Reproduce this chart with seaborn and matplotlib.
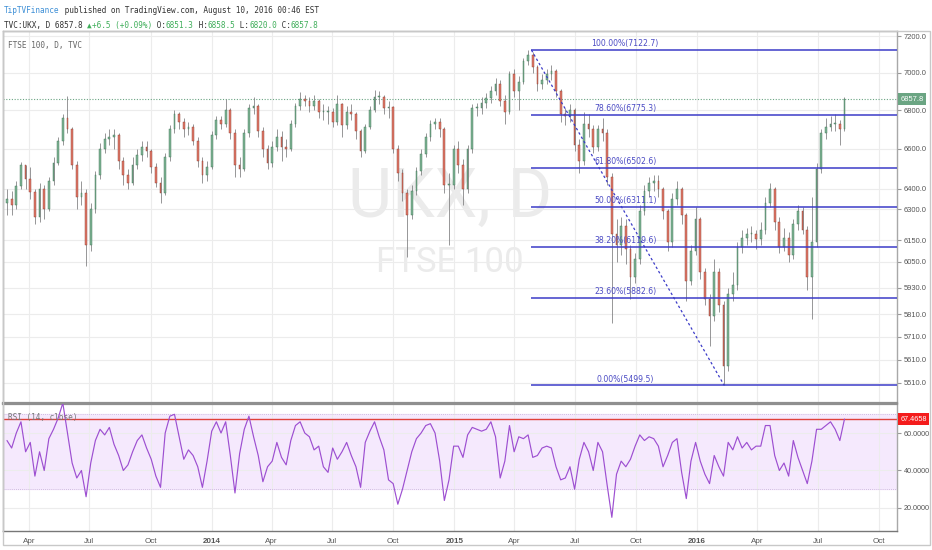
import numpy as np
import pandas as pd
import seaborn as sns
import matplotlib
matplotlib.use("Agg")
import matplotlib.pyplot as plt
import matplotlib.dates as mdates
from matplotlib.ticker import FixedLocator, NullLocator, FixedFormatter
from matplotlib.patches import Rectangle
from matplotlib.transforms import blended_transform_factory

# weekly candles (FTSE 100, Feb 2013 - Aug 2016)
closes = [
    6350, 6320, 6415, 6520, 6450, 6385, 6260, 6400, 6300, 6440,
    6530, 6640, 6760, 6700, 6520, 6360, 6380, 6130, 6300, 6470,
    6600, 6650, 6660, 6670, 6540, 6470, 6430, 6520, 6570, 6610,
    6590, 6510, 6430, 6380, 6560, 6700, 6780, 6740, 6700, 6710,
    6640, 6540, 6470, 6510, 6670, 6750, 6730, 6800, 6680, 6520,
    6500, 6680, 6810, 6820, 6690, 6600, 6530, 6610, 6660, 6610,
    6600, 6730, 6820, 6860, 6850, 6820, 6850, 6790, 6790, 6790,
    6740, 6830, 6720, 6790, 6780, 6690, 6590, 6710, 6800, 6870,
    6870, 6810, 6815, 6600, 6480, 6380, 6270, 6390, 6490, 6575,
    6660, 6730, 6740, 6700, 6420, 6420, 6600, 6520, 6400, 6600,
    6810, 6810, 6840, 6865, 6900, 6940, 6850, 6790, 6990, 6900,
    6950, 7060, 7095, 7030, 6940, 6960, 6990, 7010, 6900, 6780,
    6770, 6800, 6620, 6540, 6730, 6700, 6610, 6700, 6680, 6460,
    6180, 6130, 6220, 6110, 5980, 6060, 6290, 6390, 6430, 6440,
    6400, 6290, 6140, 6350, 6400, 6270, 5960, 6100, 6250, 6000,
    5880, 5800, 6000, 5850, 5580, 5900, 5940, 6120, 6160, 6180,
    6180, 6155, 6200, 6330, 6400, 6240, 6120, 6160, 6080, 6230,
    6290, 6200, 5980, 6140, 6500, 6680, 6710, 6730, 6730, 6700,
    6857.8,
]
highs = [
    6400, 6390, 6440, 6535, 6520, 6510, 6400, 6430, 6420, 6460,
    6560, 6660, 6780, 6875, 6710, 6540, 6440, 6400, 6330, 6490,
    6630, 6680, 6700, 6700, 6680, 6560, 6500, 6560, 6600, 6640,
    6640, 6600, 6530, 6460, 6580, 6720, 6800, 6790, 6760, 6740,
    6730, 6660, 6560, 6540, 6690, 6770, 6770, 6860, 6810, 6700,
    6560, 6700, 6830, 6870, 6830, 6710, 6620, 6640, 6700, 6690,
    6650, 6750, 6840, 6895, 6880, 6870, 6880, 6860, 6830, 6820,
    6810, 6880, 6840, 6820, 6830, 6790, 6700, 6730, 6820, 6905,
    6900, 6880, 6850, 6820, 6620, 6500, 6400, 6420, 6510, 6600,
    6680, 6750, 6760, 6760, 6710, 6480, 6620, 6640, 6550, 6620,
    6830, 6840, 6870, 6890, 6930, 6970, 6960, 6880, 7010, 7020,
    6980, 7080, 7122.7, 7110, 7040, 6990, 7020, 7040, 7020, 6910,
    6810, 6830, 6810, 6650, 6790, 6780, 6720, 6720, 6760, 6700,
    6480, 6250, 6260, 6250, 6130, 6090, 6320, 6420, 6460, 6470,
    6470, 6410, 6300, 6380, 6440, 6410, 6280, 6130, 6310, 6260,
    6020, 5900, 6060, 6020, 5870, 5930, 6000, 6140, 6200, 6210,
    6220, 6200, 6240, 6360, 6430, 6410, 6260, 6210, 6190, 6250,
    6320, 6310, 6220, 6360, 6530, 6700, 6760, 6770, 6780, 6750,
    6870,
]
lows = [
    6270, 6270, 6300, 6400, 6400, 6350, 6230, 6240, 6250, 6290,
    6420, 6520, 6620, 6680, 6500, 6300, 6320, 6030, 6100, 6280,
    6450, 6580, 6620, 6600, 6500, 6420, 6400, 6420, 6500, 6540,
    6560, 6480, 6410, 6330, 6370, 6540, 6680, 6700, 6660, 6670,
    6620, 6510, 6430, 6440, 6500, 6650, 6700, 6710, 6650, 6460,
    6460, 6490, 6660, 6780, 6660, 6560, 6500, 6510, 6590, 6540,
    6560, 6590, 6710, 6800, 6820, 6790, 6800, 6760, 6750, 6730,
    6710, 6720, 6660, 6700, 6750, 6650, 6560, 6580, 6700, 6790,
    6830, 6780, 6760, 6580, 6440, 6340, 6070, 6250, 6370, 6470,
    6560, 6640, 6700, 6660, 6380, 6130, 6400, 6480, 6320, 6380,
    6580, 6770, 6780, 6810, 6840, 6880, 6820, 6730, 6780, 6870,
    6800, 6940, 7040, 7000, 6900, 6910, 6940, 6960, 6870, 6740,
    6720, 6740, 6590, 6480, 6520, 6660, 6580, 6590, 6640, 6420,
    5770, 6050, 6080, 6040, 5880, 5950, 6040, 6270, 6360, 6390,
    6360, 6250, 6100, 6120, 6320, 6230, 5870, 5940, 6080, 5970,
    5850, 5670, 5780, 5820, 5499.5, 5560, 5870, 5920, 6090, 6130,
    6140, 6110, 6130, 6180, 6310, 6200, 6090, 6100, 6050, 6060,
    6200, 6180, 5920, 5790, 6120, 6480, 6650, 6690, 6690, 6620,
    6690,
]
rsi = [
    56, 52, 60, 66, 50, 55, 37, 50, 40, 57,
    62, 68, 76, 60, 44, 36, 40, 26, 44, 56,
    62, 59, 63, 54, 48, 40, 43, 50, 56, 59,
    52, 46, 37, 31, 60, 69, 70, 58, 46, 51,
    48, 42, 31, 45, 61, 66, 60, 66, 48, 28,
    49, 62, 69, 58, 48, 34, 42, 45, 55, 47,
    43, 56, 64, 66, 60, 58, 51, 53, 42, 39,
    52, 46, 50, 55, 48, 42, 31, 55, 61, 66,
    58, 51, 35, 33, 22, 30, 40, 50, 57, 60,
    64, 65, 60, 45, 24, 35, 53, 53, 47, 59,
    63, 62, 61, 62, 66, 58, 36, 45, 64, 50,
    58, 57, 59, 47, 48, 52, 53, 52, 42, 35,
    36, 42, 30, 46, 55, 50, 40, 55, 50, 32,
    15, 38, 45, 42, 46, 53, 59, 56, 58, 57,
    53, 42, 48, 55, 57, 39, 25, 45, 55, 45,
    38, 33, 48, 42, 37, 55, 51, 58, 52, 55,
    51, 53, 53, 64, 64, 48, 40, 44, 37, 56,
    47, 40, 33, 45, 62, 62, 64, 66, 62, 56,
    67.4658,
]

price_ticks = [5510, 5610, 5710, 5810, 5930, 6050, 6150, 6300, 6400, 6600, 6800, 7000, 7200]
rsi_ticks = [20, 40, 60]
tick_dates = ["2013-04-01", "2013-07-01", "2013-10-01", "2014-01-01", "2014-04-01", "2014-07-01",
              "2014-10-01", "2015-01-01", "2015-04-01", "2015-07-01", "2015-10-01", "2016-01-01",
              "2016-04-01", "2016-07-01", "2016-10-01"]
tick_labels = ["Apr", "Jul", "Oct", "2014", "Apr", "Jul", "Oct", "2015",
               "Apr", "Jul", "Oct", "2016", "Apr", "Jul", "Oct"]

fib_pct = ["100.00%", "78.60%", "61.80%", "50.00%", "38.20%", "23.60%", "0.00%"]
fib_val = [7122.7, 6775.3, 6502.6, 6311.1, 6119.6, 5882.6, 5499.5]
fib_start, fib_end = "2015-04-27", "2016-02-11"
last_price = 6857.8
last_rsi = 67.4658

dates = pd.date_range(end="2016-08-10", periods=len(closes), freq="7D")
x = mdates.date2num(dates)
c = np.array(closes, dtype=float)
o = np.concatenate([[6330.0], c[:-1]])
h = np.array(highs, dtype=float)
l = np.array(lows, dtype=float)

sns.set_style("white")
plt.rcParams["font.family"] = ["DejaVu Sans"]

W, H = 932, 550
fig = plt.figure(figsize=(W / 100, H / 100), dpi=100)
fig.patch.set_facecolor("white")


def box(left, top, right, bottom):
    return [left / W, 1 - bottom / H, (right - left) / W, (bottom - top) / H]


ax = fig.add_axes(box(3, 31, 897, 403))
rx = fig.add_axes(box(3, 404, 897, 531), sharex=ax)

grid_c = "#ececec"
spine_c = "#a8a8a8"
txt_c = "#555555"
mono = "DejaVu Sans Mono"
axis_font = "Liberation Sans"

# ---- price panel
ax.set_yscale("log")
ax.vlines(x, l, h, color="#7a7a7c", lw=0.55, zorder=2)
up = c >= o
body_lo = np.minimum(o, c)
body_h = np.maximum(np.abs(c - o), 4)
ax.bar(x[up], body_h[up], bottom=body_lo[up], width=2.6, color="#7fb596",
       edgecolor="#3e6f52", lw=0.3, zorder=3)
ax.bar(x[~up], body_h[~up], bottom=body_lo[~up], width=2.6, color="#e07a6a",
       edgecolor="#8a3a2e", lw=0.3, zorder=3)

xmin = mdates.date2num(pd.Timestamp("2013-02-21"))
xmax = mdates.date2num(pd.Timestamp("2016-10-28"))
ax.set_xlim(xmin, xmax)
ax.set_ylim(5425, 7228)

ax.yaxis.set_major_locator(FixedLocator(price_ticks))
ax.yaxis.set_major_formatter(FixedFormatter([f"{v:.1f}" for v in price_ticks]))
ax.yaxis.set_minor_locator(NullLocator())
ax.yaxis.tick_right()
ax.tick_params(axis="y", direction="out", length=3, pad=2, labelsize=5.4,
               labelcolor=txt_c, color="#999999")
for t in ax.get_yticklabels():
    t.set_family(axis_font)
ax.tick_params(axis="x", length=0, labelbottom=False)

tx = mdates.date2num(pd.to_datetime(tick_dates))
ax.set_xticks(tx)
ax.grid(True, color=grid_c, lw=0.8)
ax.set_axisbelow(True)
for s in ax.spines.values():
    s.set_color(spine_c)
    s.set_linewidth(1.0)
ax.spines["bottom"].set_linewidth(1.6)
ax.spines["bottom"].set_color("#8f8f8f")

# watermark
ax.text(0.5, 0.50, "UKX, D", transform=ax.transAxes, ha="center", va="baseline",
        fontsize=49, family="Roboto", color="#ebebeb", zorder=0)
ax.text(0.5, 0.352, "FTSE 100", transform=ax.transAxes, ha="center", va="baseline",
        fontsize=25, family="Roboto", color="#ebebeb", zorder=0)

# last price line + label
ax.axhline(last_price, color="#6ba583", ls=(0, (1, 1.5)), lw=0.8, zorder=1)
yt = blended_transform_factory(ax.transAxes, ax.transData)
ax.text(1.004, last_price, f"{last_price:.1f}", transform=yt, ha="left", va="center",
        fontsize=5.4, family=axis_font, color="white", zorder=6, clip_on=False,
        bbox=dict(boxstyle="square,pad=0.3", fc="#6ba583", ec="none"))

# fibonacci retracement
fx0 = mdates.date2num(pd.Timestamp(fib_start))
fx1 = mdates.date2num(pd.Timestamp(fib_end))
fib_lbl_x = mdates.date2num(pd.Timestamp("2015-09-15"))
ax.hlines(fib_val, fx0, xmax, color="#3c3cc8", lw=1.1, zorder=4)
ax.plot([fx0, fx1], [fib_val[0], fib_val[-1]], color="#3c3cc8", lw=0.9,
        ls=(0, (2, 2)), zorder=4)
for p, v in zip(fib_pct, fib_val):
    ax.annotate(f"{p}({v:.1f})", xy=(fib_lbl_x, v), xytext=(0, 1.2),
                textcoords="offset points", ha="center", va="bottom",
                fontsize=5.6, color="#4b4bc4", zorder=5)

fig.text(8 / W, 1 - 48 / H, "FTSE 100, D, TVC", family=mono, fontsize=5.6,
         color="#666666", va="baseline")

# ---- RSI panel
rx.axhspan(30, 70, color="#f5e9fd", zorder=0)
rx.axhline(70, color="#c4aed6", lw=0.6, ls=(0, (1, 1.5)), zorder=1)
rx.axhline(30, color="#c4aed6", lw=0.6, ls=(0, (1, 1.5)), zorder=1)
rx.axhline(last_rsi, color="#e0403a", lw=1.0, zorder=2)
sns.lineplot(x=x, y=rsi, ax=rx, color="#9d4fd1", lw=0.85, zorder=3)
rx.set_ylim(7.7, 75.5)
rx.set_xlim(xmin, xmax)
rx.set_ylabel("")
rx.set_xlabel("")
rx.yaxis.set_major_locator(FixedLocator(rsi_ticks))
rx.yaxis.set_major_formatter(FixedFormatter([f"{v:.4f}" for v in rsi_ticks]))
rx.yaxis.tick_right()
rx.tick_params(axis="y", direction="out", length=3, pad=2, labelsize=5.2,
               labelcolor=txt_c, color="#999999")
for t in rx.get_yticklabels():
    t.set_family(axis_font)
rx.set_xticks(tx)
rx.set_xticklabels(tick_labels)
rx.tick_params(axis="x", direction="out", length=3, pad=2, labelsize=5.8,
               labelcolor=txt_c, color="#999999")
for t in rx.get_xticklabels():
    t.set_family(axis_font)
    if t.get_text().isdigit():
        t.set_fontweight("bold")
rx.grid(True, color=grid_c, lw=0.8)
rx.set_axisbelow(True)
for s in rx.spines.values():
    s.set_color(spine_c)
    s.set_linewidth(1.0)
rx.spines["top"].set_linewidth(1.6)
rx.spines["top"].set_color("#8f8f8f")
rx.spines["bottom"].set_color("#777777")

yt2 = blended_transform_factory(rx.transAxes, rx.transData)
rx.text(1.004, last_rsi, f"{last_rsi:.4f}", transform=yt2, ha="left", va="center",
        fontsize=5.2, family=axis_font, color="white", zorder=6, clip_on=False,
        bbox=dict(boxstyle="square,pad=0.3", fc="#f41c1c", ec="none"))
fig.text(8 / W, 1 - 420 / H, "RSI (14, close)", family=mono, fontsize=5.6,
         color="#777777", va="baseline")

# outer frame
fig.add_artist(Rectangle((3 / W, 1 - 545 / H), 927 / W, 514 / H, transform=fig.transFigure,
                         fill=False, ec="#c8c8c8", lw=1.0))


# ---- header lines
def chain(parts, x0, y0):
    t = fig.text(x0 / W, 1 - y0 / H, parts[0][0], family=mono, fontsize=5.6,
                 color=parts[0][1], va="baseline")
    for s, col in parts[1:]:
        t = ax.annotate(s, xy=(1, 0), xycoords=t, ha="left", va="bottom",
                        family=mono, fontsize=5.6, color=col, annotation_clip=False)


dark = "#333333"
green = "#3fae5a"
chain([("TipTVFinance", "#3d8fd6"),
       (" published on TradingView.com, August 10, 2016 00:46 EST", dark)], 4, 13)
chain([("TVC:UKX, D 6857.8 ", dark), ("▲", green), ("+6.5 (+0.09%)", green),
       (" O:", dark), ("6851.3", green), (" H:", dark), ("6858.5", green),
       (" L:", dark), ("6820.0", green), (" C:", dark), ("6857.8", green)], 4, 28)

fig.savefig("out.png", dpi=100)
